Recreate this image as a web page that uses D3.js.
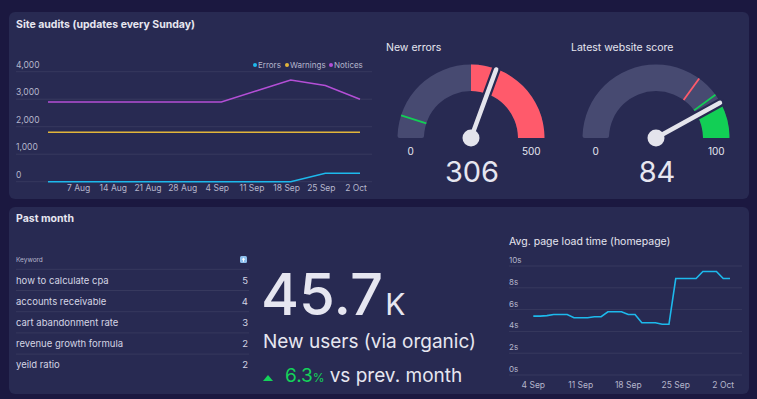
<!DOCTYPE html>
<html><head><meta charset="utf-8">
<script src="https://cdn.jsdelivr.net/npm/d3@7"></script>
<style>
html,body{margin:0;padding:0;background:#1b1840;}
svg{display:block;font-family:Inter,"Open Sans",sans-serif;}
</style></head>
<body>
<svg id="c" width="757" height="399"></svg>
<script>
// ---- data ----
const auditWeeks = ["2022-07-31","2022-08-07","2022-08-14","2022-08-21","2022-08-28","2022-09-04","2022-09-11","2022-09-18","2022-09-25","2022-10-02"];
const auditErrors = [0,0,0,0,0,0,0,0,310,310];
const auditWarnings = [1800,1800,1800,1800,1800,1800,1800,1800,1800,1800];
const auditNotices = [2900,2900,2900,2900,2900,2900,3300,3700,3500,3000];
const auditYTicks = [0,1000,2000,3000,4000];
const auditXTicks = ["2022-08-07","2022-08-14","2022-08-21","2022-08-28","2022-09-04","2022-09-11","2022-09-18","2022-09-25","2022-10-02"];
const seriesNames = ["Errors","Warnings","Notices"];
const seriesColors = ["#1db9ec","#e2b53a","#b44fd6"];

const gaugeTitles = ["New errors","Latest website score"];
const gaugeMax = [500,100];
const gaugeValues = [306,84];
const gaugeBands = [[250,500],[84,100]];
const gaugeBandColors = ["#ff5a6b","#12cf55"];
const gaugeMarkers = [[{v:50,c:"#12cf55"}],[{v:70,c:"#ff5a6b"},{v:80,c:"#12cf55"}]];

const keywords = ["how to calculate cpa","accounts receivable","cart abandonment rate","revenue growth formula","yeild ratio"];
const keywordCounts = [5,4,3,2,2];

const newUsers = "45.7";
const newUsersUnit = "K";
const changePct = "6.3";

const loadDays = ["2022-09-04","2022-09-05","2022-09-06","2022-09-07","2022-09-08","2022-09-09","2022-09-10","2022-09-11","2022-09-12","2022-09-13","2022-09-14","2022-09-15","2022-09-16","2022-09-17","2022-09-18","2022-09-19","2022-09-20","2022-09-21","2022-09-22","2022-09-23","2022-09-24","2022-09-25","2022-09-26","2022-09-27","2022-09-28","2022-09-29","2022-09-30","2022-10-01","2022-10-02","2022-10-03"];
const loadTimes = [5.4,5.4,5.45,5.55,5.55,5.55,5.25,5.25,5.25,5.35,5.35,5.8,5.8,5.8,5.55,5.55,4.8,4.8,4.8,4.65,4.65,8.85,8.85,8.85,8.85,9.5,9.5,9.5,8.85,8.85];
const loadYTicks = [0,2,4,6,8,10];
const loadXTicks = ["2022-09-04","2022-09-11","2022-09-18","2022-09-25","2022-10-02"];

// ---- drawing ----
const svg = d3.select("#c");
const P = d3.timeParse("%Y-%m-%d");
const fmtTick = d3.timeFormat("%-d %b");
const txt = "#e6e6f0", sub = "#b5b6cc", grid = "rgba(255,255,255,0.07)", panel = "#282a52";

svg.append("rect").attr("width",757).attr("height",399).attr("fill","#1b1840");
svg.append("rect").attr("x",9).attr("y",12).attr("width",740).attr("height",187).attr("rx",6).attr("fill",panel);
svg.append("rect").attr("x",9).attr("y",207).attr("width",740).attr("height",187).attr("rx",6).attr("fill",panel);

// Site audits chart
svg.append("text").attr("x",16).attr("y",28).attr("fill",txt).attr("font-size",10.5).attr("font-weight",700).text("Site audits (updates every Sunday)");
const ax = d3.scaleTime().domain([P(auditWeeks[0]),P(auditWeeks[auditWeeks.length-1])]).range([48,360]);
const ay = d3.scaleLinear().domain([0,4000]).range([181.7,71.7]);
const g1 = svg.append("g");
g1.selectAll("line.g").data(auditYTicks).join("line").attr("x1",16).attr("x2",372)
  .attr("y1",d=>ay(d)).attr("y2",d=>ay(d)).attr("stroke",grid);
g1.selectAll("text.y").data(auditYTicks).join("text").attr("x",16).attr("y",d=>ay(d)-4)
  .attr("fill",sub).attr("font-size",8.5).text(d=>d3.format(",")(d));
g1.selectAll("text.x").data(auditXTicks).join("text").attr("x",d=>ax(P(d))-4).attr("y",191)
  .attr("text-anchor","middle").attr("fill",sub).attr("font-size",8.5).text(d=>fmtTick(P(d)));
const aSeries = [auditErrors,auditWarnings,auditNotices];
const aline = d3.line().x((d,i)=>ax(P(auditWeeks[i]))).y(d=>ay(d));
[1,2,0].forEach(k=>{
  g1.append("path").attr("d",aline(aSeries[k])).attr("fill","none").attr("stroke",seriesColors[k]).attr("stroke-width",1.5);
});
// legend
const legX = [255,287,331];
seriesNames.forEach((n,i)=>{
  g1.append("circle").attr("cx",legX[i]).attr("cy",65).attr("r",2).attr("fill",seriesColors[i]);
  g1.append("text").attr("x",legX[i]+3).attr("y",68).attr("fill",sub).attr("font-size",8).text(n);
});

// Gauges
const gcx = [471,656], gcy = 138, rIn = 47, rOut = 73.5;
gaugeTitles.forEach((t,i)=>{
  const g = svg.append("g").attr("transform",`translate(${gcx[i]},${gcy})`);
  svg.append("text").attr("x",gcx[i]-85).attr("y",51).attr("fill",txt).attr("font-size",10.5).text(t);
  const sc = d3.scaleLinear().domain([0,gaugeMax[i]]).range([-Math.PI/2,Math.PI/2]);
  const arc = d3.arc().innerRadius(rIn).outerRadius(rOut).cornerRadius(2);
  g.append("path").attr("d",arc({startAngle:sc(0),endAngle:sc(gaugeMax[i])})).attr("fill","#474a71");
  g.append("path").attr("d",d3.arc().innerRadius(rIn).outerRadius(rOut)({startAngle:sc(gaugeBands[i][0]),endAngle:sc(gaugeBands[i][1])})).attr("fill",gaugeBandColors[i]);
  gaugeMarkers[i].forEach(m=>{
    const a = sc(m.v);
    g.append("line").attr("x1",Math.sin(a)*rIn).attr("y1",-Math.cos(a)*rIn)
      .attr("x2",Math.sin(a)*rOut).attr("y2",-Math.cos(a)*rOut).attr("stroke",m.c).attr("stroke-width",1.8);
  });
  const a = sc(gaugeValues[i]), L = 73;
  g.append("line").attr("x1",0).attr("y1",0).attr("x2",Math.sin(a)*L).attr("y2",-Math.cos(a)*L)
    .attr("stroke",panel).attr("stroke-width",9).attr("stroke-linecap","round");
  g.append("line").attr("x1",0).attr("y1",0).attr("x2",Math.sin(a)*L).attr("y2",-Math.cos(a)*L)
    .attr("stroke","#e4e4ec").attr("stroke-width",4.5).attr("stroke-linecap","round");
  g.append("circle").attr("r",8.5).attr("fill","#e4e4ec");
  g.append("text").attr("x",-(rIn+rOut)/2).attr("y",17).attr("text-anchor","middle").attr("fill",txt).attr("font-size",10).text(0);
  g.append("text").attr("x",(rIn+rOut)/2).attr("y",17).attr("text-anchor","middle").attr("fill",txt).attr("font-size",10).text(gaugeMax[i]);
  g.append("text").attr("x",1).attr("y",44).attr("text-anchor","middle").attr("fill",txt).attr("font-size",29).text(gaugeValues[i]);
});

// Past month table
svg.append("text").attr("x",16).attr("y",222).attr("fill",txt).attr("font-size",10.5).attr("font-weight",700).text("Past month");
svg.append("text").attr("x",16).attr("y",262).attr("fill",sub).attr("font-size",6.5).text("Keyword");
svg.append("rect").attr("x",240).attr("y",256).attr("width",7).attr("height",7).attr("rx",1.5).attr("fill","#8fc0ee");
svg.append("path").attr("d","M243.5,257.5 L241.7,259.8 L243,259.8 L243,261.8 L244,261.8 L244,259.8 L245.3,259.8 Z").attr("fill","#ffffff");
const rowY = d3.scaleLinear().domain([0,1]).range([280,301.2]);
keywords.forEach((k,i)=>{
  svg.append("line").attr("x1",16).attr("x2",249).attr("y1",rowY(i)-10.7).attr("y2",rowY(i)-10.7).attr("stroke","rgba(255,255,255,0.07)");
  svg.append("text").attr("x",16).attr("y",rowY(i)+3.5).attr("fill","#d4d5e4").attr("font-size",9.5).text(k);
  svg.append("text").attr("x",248).attr("y",rowY(i)+3.5).attr("text-anchor","end").attr("fill","#d4d5e4").attr("font-size",9.5).text(keywordCounts[i]);
});

// Big number
const bn = svg.append("text").attr("x",261).attr("y",315).attr("fill",txt);
bn.append("tspan").attr("font-size",58).attr("font-weight",500).text(newUsers);
bn.append("tspan").attr("font-size",30).attr("dx",2).text(newUsersUnit);
svg.append("text").attr("x",263).attr("y",348).attr("fill",txt).attr("font-size",19).text("New users (via organic)");
svg.append("path").attr("d","M263,381 L268,375 L273,381 Z").attr("fill","#14d35a");
const ct = svg.append("text").attr("x",285).attr("y",382).attr("font-size",19);
ct.append("tspan").attr("fill","#14d35a").text(changePct);
ct.append("tspan").attr("fill","#14d35a").attr("font-size",12).text("%");
ct.append("tspan").attr("fill",txt).attr("dx",5).text("vs prev. month");

// Avg page load chart
svg.append("text").attr("x",509).attr("y",245).attr("fill",txt).attr("font-size",10.5).text("Avg. page load time (homepage)");
const lx = d3.scaleTime().domain([P(loadDays[0]),P(loadDays[loadDays.length-1])]).range([533.3,730]);
const ly = d3.scaleLinear().domain([0,10]).range([375,266]);
const g3 = svg.append("g");
g3.selectAll("line.g").data(loadYTicks).join("line").attr("x1",509).attr("x2",742)
  .attr("y1",d=>ly(d)).attr("y2",d=>ly(d)).attr("stroke",grid);
g3.selectAll("text.y").data(loadYTicks).join("text").attr("x",509).attr("y",d=>ly(d)-3)
  .attr("fill",sub).attr("font-size",8).text(d=>d+"s");
g3.selectAll("text.x").data(loadXTicks).join("text").attr("x",d=>lx(P(d))).attr("y",388)
  .attr("text-anchor","middle").attr("fill",sub).attr("font-size",8.5).text(d=>fmtTick(P(d)));
g3.append("path").attr("d",d3.line().x((d,i)=>lx(P(loadDays[i]))).y(d=>ly(d))(loadTimes))
  .attr("fill","none").attr("stroke","#1db9ec").attr("stroke-width",1.6);
</script>
</body></html>
